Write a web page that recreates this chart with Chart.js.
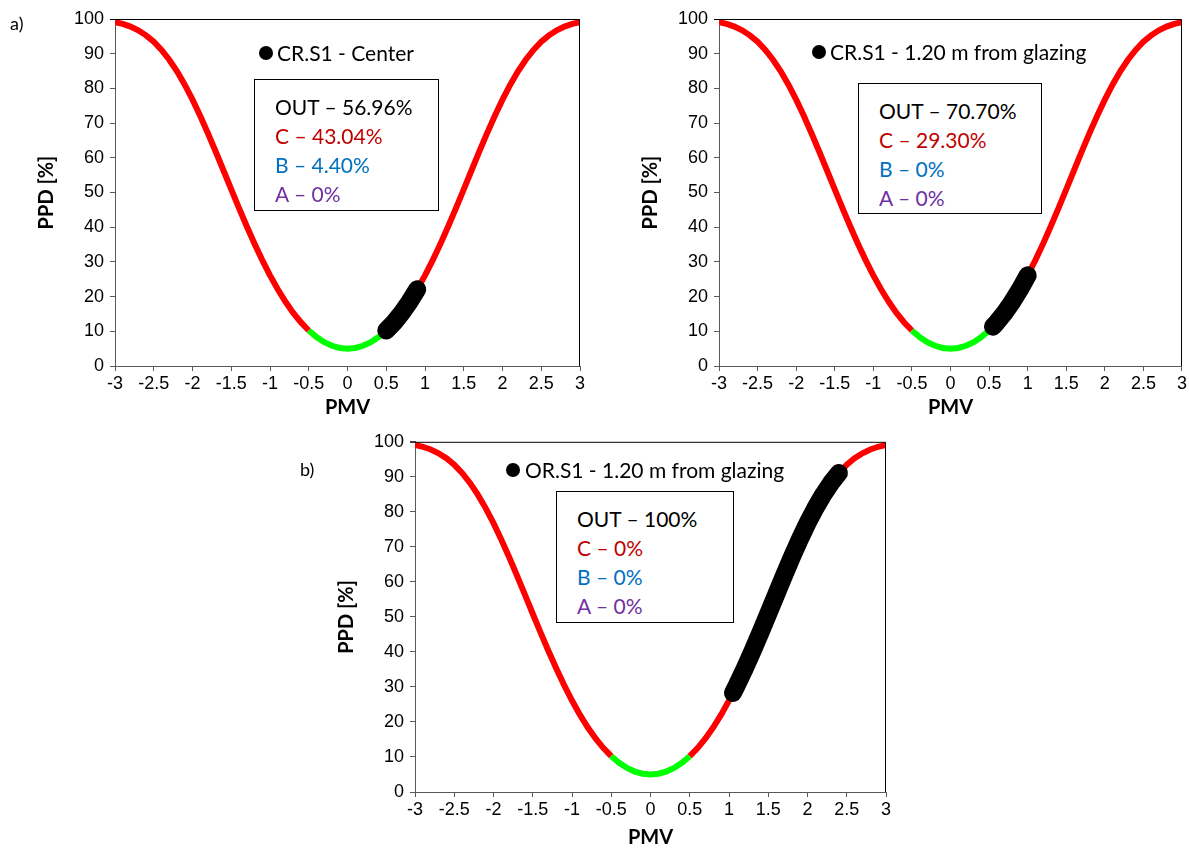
<!DOCTYPE html>
<html>
<head>
<meta charset="utf-8">
<script src="https://cdn.jsdelivr.net/npm/chart.js@4"></script>
<style>
  body { margin: 0; width: 1189px; height: 850px; background: #fff; position: relative; overflow: hidden; font-family: Lato, sans-serif; }
  canvas { position: absolute; }
  .txt { position: absolute; font-size: 21px; line-height: 26px; white-space: nowrap; color: #000; }
  .dot { position: absolute; width: 14px; height: 14px; border-radius: 50%; background: #000; }
  .box { position: absolute; border: 1px solid #000; background: #fff; box-sizing: border-box; padding: 12px 0 0 20px; font-size: 21px; line-height: 29px; white-space: nowrap; }
  .c { color: #c00000; }
  .b { color: #0070c0; }
  .a { color: #7030a0; }
  .tag { position: absolute; font-size: 18px; }
</style>
</head>
<body>
<canvas id="c1" width="595" height="425" style="left:0;top:0"></canvas>
<canvas id="c2" width="589" height="425" style="left:600px;top:0"></canvas>
<canvas id="c3" width="600" height="425" style="left:300px;top:425px"></canvas>

<div class="tag" style="left:10px;top:12px">a)</div>
<div class="tag" style="left:300px;top:458px">b)</div>

<div class="dot" style="left:259px;top:46px"></div>
<div class="txt" style="left:277px;top:40px">CR.S1 - Center</div>
<div class="box" style="left:254px;top:79px;width:185px;height:132px">
  <div>OUT – 56.96%</div><div class="c">C – 43.04%</div><div class="b">B – 4.40%</div><div class="a">A – 0%</div>
</div>

<div class="dot" style="left:812px;top:45px"></div>
<div class="txt" style="left:830px;top:39px">CR.S1 - 1.20 m from glazing</div>
<div class="box" style="left:858px;top:83px;width:184px;height:131px">
  <div>OUT – 70.70%</div><div class="c">C – 29.30%</div><div class="b">B – 0%</div><div class="a">A – 0%</div>
</div>

<div class="dot" style="left:506px;top:463px"></div>
<div class="txt" style="left:525px;top:457px">OR.S1 - 1.20 m from glazing</div>
<div class="box" style="left:556px;top:491px;width:178px;height:132px">
  <div>OUT – 100%</div><div class="c">C – 0%</div><div class="b">B – 0%</div><div class="a">A – 0%</div>
</div>

<script>
// PMV / PPD curve
const pmv = [-3,-2.9,-2.8,-2.7,-2.6,-2.5,-2.4,-2.3,-2.2,-2.1,-2,-1.9,-1.8,-1.7,-1.6,-1.5,-1.4,-1.3,-1.2,-1.1,-1,
  -0.9,-0.8,-0.7,-0.6,-0.5,-0.4,-0.3,-0.2,-0.1,0,0.1,0.2,0.3,0.4,0.5,0.6,0.7,0.8,0.9,1,
  1.1,1.2,1.3,1.4,1.5,1.6,1.7,1.8,1.9,2,2.1,2.2,2.3,2.4,2.5,2.6,2.7,2.8,2.9,3];
const ppd = [99.12,98.58,97.81,96.73,95.29,93.43,91.10,88.26,84.91,81.07,76.76,72.05,67.02,61.75,56.34,50.90,45.51,40.27,35.25,30.51,26.12,
  22.10,18.49,15.30,12.55,10.23,8.33,6.87,5.83,5.21,5.00,5.21,5.83,6.87,8.33,10.23,12.55,15.30,18.49,22.10,26.12,
  30.51,35.25,40.27,45.51,50.90,56.34,61.75,67.02,72.05,76.76,81.07,84.91,88.26,91.10,93.43,95.29,96.73,97.81,98.58,99.12];

// measured points (black bands)
const centerPmv = [0.5,0.6,0.7,0.8,0.9];
const centerPpd = [10.23,12.55,15.30,18.49,22.10];
const glazingPmv = [0.55,0.6,0.7,0.8,0.9,1.0];
const glazingPpd = [11.33,12.55,15.30,18.49,22.10,26.12];
const orPmv = [1.05,1.1,1.2,1.3,1.4,1.5,1.6,1.7,1.8,1.9,2.0,2.1,2.2,2.3,2.4];
const orPpd = [28.27,30.51,35.25,40.27,45.51,50.90,56.34,61.75,67.02,72.05,76.76,81.07,84.91,88.26,91.10];

const pmvTicks = [-3,-2.5,-2,-1.5,-1,-0.5,0,0.5,1,1.5,2,2.5,3];
const ppdTicks = [0,10,20,30,40,50,60,70,80,90,100];

const toPts = (xs, ys) => xs.map((x, i) => ({ x: x, y: ys[i] }));

const frame = {
  id: 'frame',
  afterDraw(chart) {
    const { ctx, chartArea: a } = chart;
    ctx.save();
    ctx.strokeStyle = '#000';
    ctx.lineWidth = 1;
    ctx.beginPath();
    ctx.moveTo(a.left - 5, a.top + 0.5);
    ctx.lineTo(a.right - 0.5, a.top + 0.5);
    ctx.lineTo(a.right - 0.5, a.bottom);
    ctx.stroke();
    ctx.restore();
  }
};

function makeChart(id, bandX, bandY, o) {
  new Chart(document.getElementById(id), {
    type: 'line',
    data: {
      datasets: [
        {
          data: toPts(bandX, bandY),
          borderColor: '#000',
          borderWidth: 18,
          borderCapStyle: 'round',
          borderJoinStyle: 'round',
          pointRadius: 0,
          tension: 0
        },
        {
          data: toPts(pmv, ppd),
          borderColor: '#ff0000',
          borderWidth: 6,
          pointRadius: 0,
          tension: 0,
          clip: 0,
          segment: {
            borderColor: c => (Math.abs(c.p0.parsed.x) <= 0.501 && Math.abs(c.p1.parsed.x) <= 0.501) ? '#00ff00' : '#ff0000'
          }
        }
      ]
    },
    options: {
      responsive: false,
      animation: false,
      devicePixelRatio: 1,
      layout: { padding: { left: 0, right: o.right, top: o.top, bottom: 0 } },
      plugins: { legend: { display: false }, tooltip: { enabled: false } },
      scales: {
        x: {
          type: 'linear', min: -3, max: 3,
          afterBuildTicks: s => { s.ticks = pmvTicks.map(v => ({ value: v })); },
          afterFit: s => { s.height = o.xh; },
          ticks: { callback: v => String(v), font: { family: 'Liberation Sans', size: 18 }, color: '#000', padding: 2, maxRotation: 0, autoSkip: false },
          grid: { drawOnChartArea: false, tickLength: 5, color: '#595959' },
          border: { color: '#595959', width: 1 },
          title: { display: true, text: 'PMV', color: '#000', font: { family: 'Lato', weight: 'bold', size: 20 }, padding: { top: 0, bottom: o.xt } }
        },
        y: {
          type: 'linear', min: 0, max: 100,
          afterBuildTicks: s => { s.ticks = ppdTicks.map(v => ({ value: v })); },
          afterFit: s => { s.width = o.yw; },
          ticks: { font: { family: 'Liberation Sans', size: 18 }, color: '#000', padding: 6 },
          grid: { drawOnChartArea: false, tickLength: 5, color: '#595959' },
          border: { color: '#595959', width: 1 },
          title: { display: true, text: 'PPD [%]', color: '#000', font: { family: 'Lato', weight: 'bold', size: 20 }, padding: { top: o.yt, bottom: 0 } }
        }
      }
    },
    plugins: [frame]
  });
}

makeChart('c1', centerPmv, centerPpd, { right: 15, top: 19, xh: 59, yw: 115, xt: 5, yt: 35 });
makeChart('c2', glazingPmv, glazingPpd, { right: 5, top: 19, xh: 59, yw: 119, xt: 5, yt: 39 });
makeChart('c3', orPmv, orPpd, { right: 14, top: 16, xh: 58, yw: 115, xt: 0, yt: 35 });
</script>
</body>
</html>
